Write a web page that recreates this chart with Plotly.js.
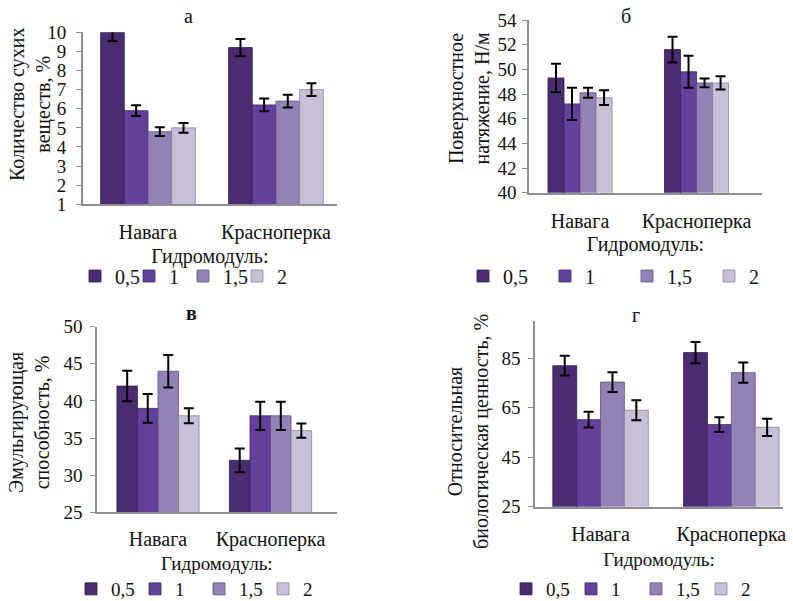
<!DOCTYPE html>
<html><head><meta charset="utf-8">
<script src="https://cdn.plot.ly/plotly-3.0.1.min.js"></script>
<style>html,body{margin:0;padding:0;background:#fff;width:793px;height:601px;overflow:hidden}#chart{width:793px;height:615px}</style>
</head><body><div id="chart"></div>
<script>
// ---------- data ----------
const categories = ['Навага', 'Красноперка'];
const hydromodules = ['0,5', '1', '1,5', '2'];

// а — Количество сухих веществ, % (rows: hydromodule, cols: category)
const dryMatter    = [[10.0, 9.2], [5.9, 6.2], [4.8, 6.4], [5.0, 7.0]];
const dryMatterErr = [[0.45, 0.45], [0.28, 0.33], [0.23, 0.33], [0.26, 0.33]];

// б — Поверхностное натяжение, Н/м
const surfaceTension    = [[49.3, 51.6], [47.2, 49.8], [48.1, 48.9], [47.7, 48.9]];
const surfaceTensionErr = [[1.15, 1.05], [1.3, 1.3], [0.4, 0.36], [0.6, 0.54]];

// в — Эмульгирующая способность, %
const emulsifying    = [[42, 32], [39, 38], [44, 38], [38, 36]];
const emulsifyingErr = [[2.05, 1.6], [1.95, 1.9], [2.2, 1.9], [1.0, 0.95]];

// г — Относительная биологическая ценность, %
const bioValue    = [[82, 87.3], [60.2, 58.2], [75.4, 79.2], [64, 57.1]];
const bioValueErr = [[4.0, 4.3], [3.2, 3.0], [4.0, 4.1], [4.0, 3.5]];

const panelLetters = ['а', 'б', 'в', 'г'];
const yTitles = ['Количество сухих<br>веществ, %', 'Поверхностное<br>натяжение, Н/м',
                 'Эмульгирующая<br>способность, %', 'Относительная<br>биологическая ценность, %'];
const xTitle = 'Гидромодуль:';

// ---------- style ----------
const W = 793, H = 615;
const fx = v => v / W;
const fy = v => 1 - v / H;
const FONT = '"Liberation Serif", serif';
const colors = ['#4b2c72', '#63409c', '#9482b7', '#c8c0d8'];
const edge = ['#2f1c4a', '#3e2766', '#5f5080', '#86809a'];
const axisColor = '#8e8e8e';
const txt = (size, bold) => ({size: size, family: FONT, color: '#111', weight: bold ? 700 : 400});

const panels = [
  {vals: dryMatter, errs: dryMatterErr, ax: '', leg: 'legend', gw: 0.74,
   xd: [82.7, 337], xr: [-0.51, 1.477], yd: [32.3, 204.3], yr: [1, 10], tick0: 1, dtick: 1,
   ystand: 6, xstand: 9, tstand: 6, tfs: 20, ytl: [30, 105], letter: [188, 16, false],
   legXY: [75, 276], lfs: 20, entry: 9},
  {vals: surfaceTension, errs: surfaceTensionErr, ax: '2', leg: 'legend2', gw: 0.55,
   xd: [529, 762], xr: [-0.438, 1.562], yd: [20, 192.7], yr: [40, 54], tick0: 40, dtick: 2,
   ystand: 2, xstand: 10, tstand: 3, tfs: 20, ytl: [468.5, 99], letter: [626, 16, false],
   legXY: [463, 276], lfs: 20, entry: 37},
  {vals: emulsifying, errs: emulsifyingErr, ax: '3', leg: 'legend3', gw: 0.73,
   xd: [97, 336.7], xr: [-0.542, 1.588], yd: [326.7, 512.3], yr: [25, 50], tick0: 25, dtick: 5,
   ystand: 4, xstand: 8, tstand: 7, tfs: 19, ytl: [29, 423], letter: [191, 313, true],
   legXY: [71, 589], lfs: 19, entry: 19},
  {vals: bioValue, errs: bioValueErr, ax: '4', leg: 'legend4', gw: 0.73,
   xd: [535, 783], xr: [-0.501, 1.395], yd: [321.2, 506.7], yr: [25, 100], tick0: 25, dtick: 20,
   ystand: 4, xstand: 9, tstand: 7, tfs: 19, ytl: [468.5, 431.5], letter: [636, 315, false],
   legXY: [506, 589], lfs: 19, entry: 20}
];

const traces = [];
const layout = {
  width: W, height: H,
  margin: {l: 0, r: 0, t: 0, b: 0},
  paper_bgcolor: '#ffffff', plot_bgcolor: 'rgba(0,0,0,0)',
  font: {family: FONT, size: 18, color: '#111'},
  showlegend: true,
  annotations: []
};

panels.forEach((p, pi) => {
  const bw = p.gw / hydromodules.length;
  hydromodules.forEach((h, si) => {
    traces.push({
      type: 'bar',
      name: h,
      x: categories,
      y: p.vals[si],
      xaxis: 'x' + p.ax, yaxis: 'y' + p.ax,
      legend: p.leg,
      width: bw,
      offset: -p.gw / 2 + si * bw,
      marker: {color: colors[si], line: {color: edge[si], width: 0.8}},
      error_y: {type: 'data', array: p.errs[si], visible: true, color: '#000', thickness: 2, width: 5},
      hoverinfo: 'y'
    });
  });
  layout['xaxis' + p.ax] = {
    domain: [fx(p.xd[0]), fx(p.xd[1])], range: p.xr, type: 'category',
    anchor: 'y' + p.ax, showline: true, linecolor: axisColor, linewidth: 1.5,
    showgrid: false, zeroline: false, ticks: '', ticklabelstandoff: p.xstand,
    tickfont: txt(20),
    title: {text: xTitle, font: txt(p.tfs), standoff: p.tstand},
    automargin: false, fixedrange: true
  };
  layout['yaxis' + p.ax] = {
    domain: [fy(p.yd[1]), fy(p.yd[0])], range: p.yr, tick0: p.tick0, dtick: p.dtick,
    anchor: 'x' + p.ax, showline: true, linecolor: axisColor, linewidth: 1.5,
    ticks: 'outside', ticklen: 5, tickcolor: axisColor, tickwidth: 1.2,
    showgrid: false, zeroline: false, ticklabelstandoff: p.ystand,
    tickfont: txt(19),
    automargin: false, fixedrange: true
  };
  layout[p.leg] = {
    orientation: 'h', x: fx(p.legXY[0]), y: fy(p.legXY[1]), xanchor: 'left', yanchor: 'middle',
    font: txt(p.lfs), bgcolor: 'rgba(0,0,0,0)',
    itemclick: false, itemdoubleclick: false,
    entrywidth: p.entry, entrywidthmode: 'pixels'
  };
  // y-axis title (rotated, two lines)
  layout.annotations.push({
    xref: 'paper', yref: 'paper', x: fx(p.ytl[0]), y: fy(p.ytl[1]),
    xanchor: 'center', yanchor: 'middle', showarrow: false, textangle: -90, align: 'center',
    text: yTitles[pi], font: txt(20)
  });
  // panel letter
  layout.annotations.push({
    xref: 'paper', yref: 'paper', x: fx(p.letter[0]), y: fy(p.letter[1]),
    xanchor: 'center', yanchor: 'middle', showarrow: false,
    text: panelLetters[pi], font: txt(20, p.letter[2])
  });
});

Plotly.newPlot('chart', traces, layout, {displayModeBar: false});
</script>
</body></html>
